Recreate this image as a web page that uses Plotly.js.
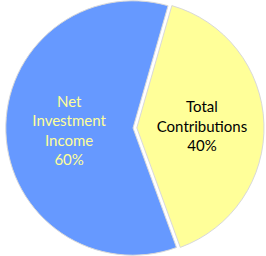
<!DOCTYPE html>
<html><head><meta charset="utf-8">
<script src="https://cdn.plot.ly/plotly-3.0.1.min.js"></script>
<style>html,body{margin:0;padding:0;background:#fff;overflow:hidden}</style>
</head><body>
<div id="chart" style="width:270px;height:262px;margin-left:-2px;margin-top:-3px"></div>
<script>
const labels = ["Total Contributions", "Net Investment Income"];
const values = [40, 60];
const textLabels = ["Total<br>Contributions", "Net<br>Investment<br>Income"];
const colors = ["#FFFF99", "#6699FF"];
const textColors = ["#000000", "#FFFF99"];

Plotly.newPlot("chart", [{
  type: "pie",
  labels: labels,
  values: values,
  text: textLabels,
  texttemplate: "%{text}<br>%{percent:.0%}",
  textposition: "inside",
  insidetextorientation: "horizontal",
  sort: false,
  direction: "clockwise",
  rotation: 16,
  pull: [0.03, 0],
  marker: {colors: colors, line: {color: "#D9D9D9", width: 1}},
  insidetextfont: {family: "Lato, sans-serif", size: 15, color: textColors},
  hoverinfo: "none"
}], {
  width: 270, height: 262,
  margin: {l: 0, r: 0, t: 0, b: 0},
  showlegend: false,
  paper_bgcolor: "#ffffff"
}, {displayModeBar: false, staticPlot: true});
</script>
</body></html>
